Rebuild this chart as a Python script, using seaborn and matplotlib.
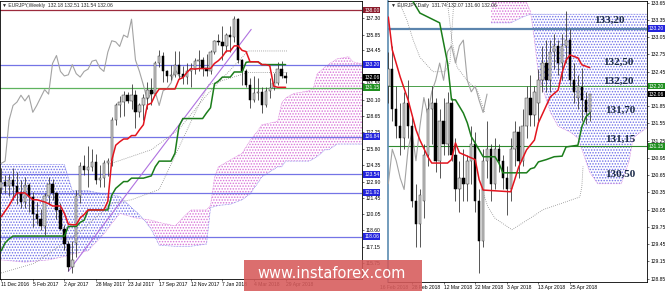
import numpy as np
import matplotlib
matplotlib.use("Agg")
import matplotlib.pyplot as plt
import matplotlib.transforms as mtransforms
from matplotlib.patches import Rectangle
import seaborn as sns

# ---------------- weekly chart (left) ----------------
w_open = [122.3, 122.9, 122.5, 123.0, 122.5, 121.9, 121.1, 122.6, 121.5, 120.0,
          119.6, 119.0, 121.6, 122.7, 121.9, 120.4, 118.7, 117.4, 115.4, 117.5,
          121.6, 124.3, 123.9, 124.2, 124.6, 123.0, 123.2, 124.5, 124.7, 128.3,
          129.6, 129.9, 130.5, 130.0, 130.5, 129.0, 129.6, 130.3, 131.0, 130.6,
          133.3, 134.0, 132.6, 132.2, 132.3, 133.2, 132.4, 132.1, 132.6, 132.8,
          133.5, 133.6, 132.9, 132.6, 134.3, 135.3, 135.2, 134.8, 135.8, 135.6,
          137.2, 133.6, 132.6, 131.4, 130.1, 130.7, 130.8, 129.6, 130.9, 131.1,
          131.6, 132.8, 132.18]
w_high = [124.1, 123.5, 123.6, 124.1, 123.7, 123.0, 123.3, 122.8, 122.0, 121.1,
          120.5, 121.9, 123.3, 123.1, 122.0, 121.0, 119.1, 117.7, 117.7, 122.2,
          124.6, 125.2, 126.0, 125.8, 125.3, 124.4, 124.8, 125.0, 128.6, 129.8,
          130.4, 130.9, 130.8, 131.5, 131.0, 129.8, 130.6, 131.7, 132.0, 133.5,
          134.5, 134.3, 132.7, 133.2, 134.4, 134.4, 133.1, 133.3, 133.3, 133.8,
          134.5, 133.9, 134.1, 134.5, 135.4, 135.9, 136.6, 136.0, 136.6, 137.5,
          137.3, 133.7, 132.8, 132.0, 132.2, 132.0, 131.2, 131.2, 132.0, 132.5,
          133.4, 133.5, 132.51]
w_low = [121.9, 121.9, 121.6, 121.3, 120.9, 120.6, 120.6, 120.2, 118.9, 119.2,
         118.6, 118.2, 120.9, 121.3, 119.6, 118.6, 116.9, 115.0, 114.85, 116.3,
         121.0, 123.5, 122.4, 123.8, 122.7, 122.4, 122.4, 123.4, 124.3, 127.9,
         128.6, 128.7, 129.8, 129.3, 127.6, 128.6, 128.3, 129.3, 129.6, 130.5,
         133.0, 131.7, 131.7, 131.8, 132.1, 131.9, 131.5, 131.5, 131.2, 132.4,
         132.6, 132.2, 132.2, 132.4, 134.1, 134.9, 133.6, 134.3, 134.3, 135.2,
         133.3, 131.4, 131.2, 129.4, 129.9, 130.1, 128.95, 129.5, 130.3, 131.0,
         131.4, 132.0, 131.54]
w_close = [122.9, 122.5, 123.0, 122.5, 121.9, 121.1, 122.6, 121.5, 120.0, 119.6,
           119.0, 121.6, 122.7, 121.9, 120.4, 118.7, 117.4, 115.4, 116.0, 121.6,
           124.3, 123.9, 124.2, 124.6, 123.0, 123.2, 124.5, 124.7, 128.3, 129.6,
           129.9, 130.5, 130.0, 130.5, 129.0, 129.6, 130.3, 131.0, 130.6, 133.3,
           134.0, 132.6, 132.2, 132.3, 133.2, 132.4, 132.1, 132.6, 132.8, 133.5,
           133.6, 132.9, 132.6, 134.3, 135.3, 135.2, 134.8, 135.8, 135.6, 137.2,
           133.6, 132.6, 131.4, 130.1, 130.7, 130.8, 129.6, 130.9, 131.1, 131.6,
           132.8, 132.2, 132.06]
w_tenkan = [119.8, 120.3, 120.8, 121.4, 121.9, 121.9, 121.9, 121.6, 121.3, 121.3,
            121.2, 121.1, 120.95, 120.75, 120.75, 120.75, 120.1, 119.15, 119.1, 119.1,
            119.7, 120.0, 120.4, 120.4, 120.4, 120.4, 120.4, 121.15, 124.8, 126.1,
            126.4, 126.65, 126.65, 126.95, 126.95, 127.45, 127.9, 129.65, 129.8, 130.55,
            131.05, 131.05, 131.05, 131.05, 131.05, 131.9, 132.05, 132.5, 132.85, 132.8,
            132.85, 132.85, 132.85, 132.85, 133.3, 133.55, 133.9, 134.4, 134.4, 134.85,
            134.85, 134.45, 134.35, 133.45, 133.45, 133.45, 133.2, 133.2, 133.1, 131.3,
            131.2, 131.2, 131.2]
w_kijun = ([116.8, 117.5, 117.85] + [118.1] * 14 + [118.95, 118.95, 118.95, 119.3, 119.5]
           + [120.4] * 6
           + [121.7, 122.3, 122.6, 122.9, 122.9, 123.2, 123.2, 123.2, 123.2, 123.3,
              123.4, 124.2, 124.7, 124.7, 124.7, 124.7, 125.4, 127.75]
           + [128.45] * 6
           + [128.95, 129.4, 131.5, 131.75, 132.1, 132.1, 132.1, 132.55, 132.55, 132.55,
              133.4, 133.45, 133.45, 133.45]
           + [133.2] * 7)
w_cloud_x = [0, 6, 12, 16, 18, 22, 26, 30, 34, 36, 38, 40, 44, 48, 52, 53, 54, 55,
             58, 61, 63, 65, 66, 70, 71, 72, 74, 78, 79, 80, 82, 83, 85, 88, 89, 92]
w_span_a = [116.0, 115.8, 116.0, 116.3, 116.5, 116.8, 118.3, 120.1, 119.7, 119.6,
            119.5, 119.3, 119.0, 120.4, 120.4, 120.8, 123.25, 124.2, 124.8, 125.4,
            126.5, 127.4, 127.9, 128.2, 129.8, 130.25, 130.65, 130.9, 131.1, 132.4,
            133.0, 133.25, 133.7, 133.9, 133.45, 133.2]
w_span_b = [124.4, 124.4, 124.4, 124.4, 122.1, 122.1, 121.8, 121.6, 120.3, 119.6,
            118.7, 117.3, 117.2, 117.2, 117.4, 120.6, 120.7, 120.8, 120.9, 121.3,
            121.8, 122.8, 123.3, 124.2, 124.2, 124.7, 124.7, 124.7, 124.9, 125.1,
            125.7, 125.7, 126.2, 126.2, 126.2, 126.2]
w_dot1_x = [27, 38, 45, 52, 62.5, 72.6]
w_dot1_y = [124.4, 125.7, 127.5, 130.5, 134.4, 134.4]
w_dot2_x = [0, 8.4, 20, 28, 33, 40, 52.4, 62.5, 72.6]
w_dot2_y = [114.85, 115.7, 118.5, 121.0, 121.3, 122.2, 131.4, 132.5, 132.5]
w_trend_x = [17, 63.3]
w_trend_y = [115.0, 136.3]
w_date_idx = [0, 8, 16, 24, 32, 40, 48, 56, 64, 72]
w_date_labels = ["11 Dec 2016", "5 Feb 2017", "2 Apr 2017", "28 May 2017", "23 Jul 2017",
                 "17 Sep 2017", "12 Nov 2017", "7 Jan 2018", "4 Mar 2018", "29 Apr 2018"]
w_price_ticks = [137.30, 135.85, 134.45, 131.55, 130.10, 128.65, 127.25, 125.80,
                 124.35, 122.90, 121.45, 120.05, 118.60, 117.15, 115.75]
w_levels = [138.00, 133.20, 131.15, 126.84, 123.54, 121.92, 118.06]
w_level_kind = ["red", "blue", "green", "blue", "blue", "blue", "blue"]
w_last = 132.06

# ---------------- daily chart (right) ----------------
d_idx = list(range(-6, 46))
d_open = [132.2, 132.5, 131.8, 131.5, 131.3, 131.9, 131.5, 130.2, 129.8, 130.2,
          131.0, 131.8, 131.9, 130.9, 131.6, 131.2, 131.9, 131.0, 130.4, 130.6,
          130.5, 130.9, 131.2, 130.2, 129.5, 130.9, 131.1, 130.5, 131.1, 130.9,
          130.6, 130.4, 131.1, 131.4, 130.9, 131.5, 132.0, 131.7, 131.9, 132.3,
          132.6, 132.3, 132.8, 132.9, 132.6, 132.9, 133.0, 132.3, 132.0, 132.18,
          131.95, 131.74]
d_high = [132.8, 132.9, 132.2, 131.9, 132.1, 132.3, 131.7, 130.5, 130.4, 131.2,
          132.0, 132.2, 132.0, 131.8, 132.0, 132.1, 132.0, 131.3, 130.9, 131.1,
          131.0, 131.5, 131.4, 130.4, 131.1, 131.6, 131.2, 131.3, 131.2, 131.0,
          130.8, 131.3, 131.6, 131.5, 131.8, 132.2, 132.4, 132.2, 132.5, 132.9,
          133.0, 133.0, 133.1, 133.0, 133.1, 133.5, 133.2, 132.6, 132.4, 132.51,
          132.1, 132.07]
d_low = [131.9, 131.6, 131.3, 131.0, 131.1, 131.3, 130.1, 129.4, 129.4, 129.9,
         130.8, 131.2, 130.7, 130.6, 131.0, 131.0, 130.9, 130.2, 130.0, 130.2,
         130.2, 130.5, 130.0, 128.95, 129.4, 130.6, 130.2, 130.4, 130.7, 130.4,
         129.95, 130.2, 130.8, 130.6, 130.8, 131.3, 131.5, 131.5, 131.6, 132.1,
         132.1, 132.1, 132.5, 132.4, 132.3, 132.6, 132.2, 131.9, 131.8, 131.6,
         131.54, 131.60]
d_close = [132.5, 131.8, 131.5, 131.3, 131.9, 131.5, 130.2, 129.8, 130.3, 131.0,
           131.8, 131.9, 130.9, 131.6, 131.2, 131.9, 131.0, 130.4, 130.6, 130.5,
           130.9, 131.2, 130.2, 129.5, 130.9, 131.1, 130.5, 131.1, 130.9, 130.6,
           130.4, 131.1, 131.4, 130.9, 131.5, 132.0, 131.7, 132.1, 132.3, 132.6,
           132.3, 132.8, 132.9, 132.6, 132.9, 133.0, 132.3, 132.1, 132.2, 131.95,
           131.74, 132.06]
d_tenkan_x = [-6, -5, -3, -1, 1, 2, 4, 5, 9, 10, 11, 12, 16, 17, 18, 25, 26, 27, 29,
              31, 32, 35, 37, 38, 39, 40, 42, 43, 45]
d_tenkan = [133.40, 132.83, 132.36, 131.96, 131.44, 131.26, 130.97, 130.86, 130.86,
            130.92, 131.21, 131.04, 130.92, 130.57, 130.39, 130.36, 130.57, 130.79,
            131.09, 131.26, 131.56, 132.01, 132.13, 132.43, 132.65, 132.74, 132.69,
            132.57, 132.52]
d_kijun_x = [-6, -1, 0, 2, 7, 9, 10, 11, 13, 14, 15, 17, 18, 21, 22, 23, 29, 30, 31,
             32, 34, 36, 38, 39, 42, 43, 44, 45]
d_kijun = [134.3, 134.3, 133.7, 133.47, 133.30, 132.60, 131.96, 131.96, 131.73, 131.56,
           131.32, 131.09, 130.97, 130.97, 130.86, 130.69, 130.69, 130.76, 130.78,
           130.88, 130.92, 130.97, 130.98, 131.14, 131.17, 131.49, 131.66, 131.73]
d_cloud_x = [20, 25, 28, 30, 31, 32, 35, 37, 40, 42, 45, 47, 53, 55, 56, 58, 60]
d_span_a = [134.6, 134.0, 133.8, 133.5, 133.0, 132.4, 131.75, 131.5, 131.4, 131.3,
            130.7, 130.5, 130.5, 130.9, 131.3, 131.4, 131.5]
d_span_b = [133.3, 133.3, 133.4, 133.45, 133.45, 133.45, 133.45, 133.45, 133.45,
            133.45, 133.45, 133.45, 133.45, 133.45, 133.45, 133.45, 133.45]
d_dot1_x = [-3.5, -1.3, 0.3, 2, 5.3, 8.4, 9.6, 10.6]
d_dot1_y = [133.7, 133.35, 133.0, 132.7, 132.45, 132.45, 132.6, 133.7]
d_dot2_x = [8.9, 10.1, 11.4, 13.9, 16.5, 18.5]
d_dot2_y = [133.7, 133.0, 132.53, 132.3, 132.13, 131.73]
d_dot3_x = [17.7, 19.2, 21, 25.3, 30.6, 33.2, 37.5, 42.5, 43, 43.3]
d_dot3_y = [130.4, 130.1, 129.9, 129.7, 129.93, 130.05, 130.15, 130.27, 130.45, 130.8]
d_date_idx = [0, 8, 16, 24, 32, 40]
d_date_labels = ["28 Feb 2018", "12 Mar 2018", "22 Mar 2018", "3 Apr 2018",
                 "13 Apr 2018", "25 Apr 2018"]
d_first_label = "16 Feb 2018"
d_price_ticks = [133.65, 133.35, 133.05, 132.75, 132.45, 131.85, 131.55, 131.25,
                 130.95, 130.65, 130.35, 130.05, 129.75, 129.45, 129.15, 128.85]
d_levels = [133.20, 132.20, 131.15]
d_level_kind = ["blue", "green", "green"]
d_last = 132.06
d_notes = ["133,20", "132,50", "132,20", "131,70", "131,15", "130,50"]
d_note_pos = [(50.1, 133.35), (52.2, 132.62), (52.2, 132.29), (52.7, 131.77),
              (52.7, 131.28), (52.7, 130.67)]

# ---------------- style ----------------
sns.set_theme(style="white")
plt.rcParams['font.family'] = ['Liberation Sans', 'DejaVu Sans']
plt.rcParams['hatch.linewidth'] = 0.7

W, H = 665, 291
fig = plt.figure(figsize=(W / 100, H / 100), dpi=100)
fig.patch.set_facecolor("white")
ax_l = fig.add_axes([0 / W, (H - 279) / H, 362 / W, (279 - 1) / H])
ax_r = fig.add_axes([388 / W, (H - 282) / H, (647 - 388) / W, (282 - 1) / H])

C_MAG = "#d873d8"
C_BLUE = "#6f6fe8"
LINE_COL = {"red": "#9c2a3c", "blue": "#7474e6", "green": "#5fb35f"}
BOX_COL = {"red": "#8b1c2c", "blue": "#2424dd", "green": "#1f8f1f"}
TXT = 3.6


def draw_candles(ax, idx, o, h, l, c, minh):
    idx = np.asarray(idx, float)
    o, h, l, c = (np.asarray(v, float) for v in (o, h, l, c))
    ax.vlines(idx, l, h, color="#3a3a3a", lw=0.6, zorder=4)
    up = c >= o
    bottom = np.minimum(o, c)
    height = np.maximum(np.abs(c - o), minh)
    ax.bar(idx[up], height[up], bottom=bottom[up], width=0.62, color="#cfcfcf",
           edgecolor="#3a3a3a", linewidth=0.35, zorder=5)
    ax.bar(idx[~up], height[~up], bottom=bottom[~up], width=0.62, color="black",
           edgecolor="black", linewidth=0.35, zorder=5)


def draw_cloud(ax, x, a, b):
    x = np.asarray(x, float)
    a = np.asarray(a, float)
    b = np.asarray(b, float)
    ax.fill_between(x, a, b, where=a >= b, interpolate=True, facecolor="none",
                    edgecolor=C_MAG, hatch="......", linewidth=0, zorder=1)
    ax.fill_between(x, a, b, where=a <= b, interpolate=True, facecolor="none",
                    edgecolor=C_BLUE, hatch="......", linewidth=0, zorder=1)
    ax.plot(x, a, ls=(0, (1, 1.2)), lw=0.5, color=C_MAG, zorder=1.5)
    ax.plot(x, b, ls=(0, (1, 1.2)), lw=0.5, color=C_BLUE, zorder=1.5)


def box(ax, y, text, fc):
    tr = mtransforms.blended_transform_factory(ax.transAxes, ax.transData)
    ax.text(1.006, y, text, transform=tr, fontsize=TXT, color="white", ha="left",
            va="center", clip_on=False, zorder=30,
            bbox=dict(boxstyle="square,pad=0.18", fc=fc, ec="none"))


def style_axis(ax, xlim, ylim, yticks, xidx, xlabels):
    ax.set_xlim(*xlim)
    ax.set_ylim(*ylim)
    ax.set_facecolor("white")
    ax.grid(False)
    ax.yaxis.tick_right()
    ax.set_yticks(yticks)
    ax.set_yticklabels([f"{v:.2f}" for v in yticks])
    ax.set_xticks(xidx)
    ax.set_xticklabels(xlabels)
    for lab in ax.get_xticklabels():
        lab.set_ha("left")
    ax.tick_params(axis="both", labelsize=TXT, length=1.5, width=0.4, pad=1,
                   colors="black", bottom=True, right=True, left=False)
    for s in ax.spines.values():
        s.set_linewidth(0.6)
        s.set_color("black")
    ax.set_xlabel("")
    ax.set_ylabel("")


# ---------------- left (weekly) ----------------
draw_cloud(ax_l, w_cloud_x, w_span_a, w_span_b)
for lv, kind in zip(w_levels, w_level_kind):
    ax_l.axhline(lv, color=LINE_COL[kind], lw=0.9, zorder=2)
ax_l.plot(w_dot1_x, w_dot1_y, ls=(0, (1, 1.5)), lw=0.6, color="#8c8c8c", zorder=2)
ax_l.plot(w_dot2_x, w_dot2_y, ls=(0, (1, 1.5)), lw=0.6, color="#8c8c8c", zorder=2)
ax_l.plot(w_trend_x, w_trend_y, color="#b072e0", lw=0.8, zorder=3)
w_x = np.arange(len(w_close))
sns.lineplot(x=w_x[26:] - 26, y=w_close[26:], ax=ax_l, color="#a3a3a3", lw=0.8,
             legend=False, zorder=3)
draw_candles(ax_l, w_x, w_open, w_high, w_low, w_close, 0.08)
sns.lineplot(x=w_x, y=w_kijun, ax=ax_l, color="#1b7d1b", lw=1.1, legend=False, zorder=6)
sns.lineplot(x=w_x, y=w_tenkan, ax=ax_l, color="#e3141e", lw=1.1, legend=False, zorder=6)
style_axis(ax_l, (-0.3, 91.35), (114.32, 138.80), w_price_ticks, w_date_idx, w_date_labels)
for lv, kind in zip(w_levels, w_level_kind):
    box(ax_l, lv, f"{lv:.2f}", BOX_COL[kind])
box(ax_l, w_last, f"{w_last:.2f}", "black")

# ---------------- right (daily) ----------------
draw_cloud(ax_r, d_cloud_x, d_span_a, d_span_b)
ax_r.axhline(d_levels[0], color="#5b84ad", lw=1.6, zorder=2)
ax_r.axhline(d_levels[1], color="#4aa04a", lw=0.7, zorder=2)
ax_r.axhline(d_levels[2], color="#2e8b2e", lw=0.8, zorder=2)
for xs, ys in ((d_dot1_x, d_dot1_y), (d_dot2_x, d_dot2_y), (d_dot3_x, d_dot3_y)):
    ax_r.plot(xs, ys, ls=(0, (1, 1.5)), lw=0.6, color="#8c8c8c", zorder=2)
d_x = np.asarray(d_idx)
sns.lineplot(x=d_x[26:] - 26, y=d_close[26:], ax=ax_r, color="#a3a3a3", lw=0.8,
             legend=False, zorder=3)
draw_candles(ax_r, d_x, d_open, d_high, d_low, d_close, 0.015)
sns.lineplot(x=d_kijun_x, y=d_kijun, ax=ax_r, color="#1b7d1b", lw=1.1, legend=False, zorder=6)
sns.lineplot(x=d_tenkan_x, y=d_tenkan, ax=ax_r, color="#e3141e", lw=1.1, legend=False, zorder=6)
style_axis(ax_r, (-6.08, 59.5), (128.79, 133.68), d_price_ticks, d_date_idx, d_date_labels)
ax_r.spines["left"].set_color("#5b8bb0")
ax_r.spines["left"].set_linewidth(1.2)
for lv, kind in zip(d_levels, d_level_kind):
    box(ax_r, lv, f"{lv:.2f}", BOX_COL[kind])
box(ax_r, d_last, f"{d_last:.2f}", "black")
tr_lab = mtransforms.blended_transform_factory(ax_r.transData, ax_r.transAxes)
ax_r.text(-8, -0.021, d_first_label, transform=tr_lab, fontsize=TXT, ha="left",
          va="center", clip_on=False)
for txt, (xx, yy) in zip(d_notes, d_note_pos):
    ax_r.text(xx, yy, txt, fontsize=8, fontweight="bold", family="Liberation Serif",
              color="#1b2a49", ha="center", va="center", zorder=25)

# ---------------- headers & watermark ----------------
fig.text(2 / W, 1 - 5 / H, "\u25bc EURJPY,Weekly  132.18 132.51 131.54 132.06",
         fontsize=TXT, ha="left", va="center", zorder=12)
fig.text(391 / W, 1 - 5 / H, "\u25bc EURJPY,Daily  131.74 132.07 131.60 132.06",
         fontsize=TXT, ha="left", va="center", zorder=12)
fig.add_artist(Rectangle((244 / W, 0), (422 - 244) / W, 31 / H, transform=fig.transFigure,
                         facecolor="#d65a5a", alpha=0.88, edgecolor="none", zorder=20))
fig.text(331.5 / W, 18 / H, "www.instaforex.com", fontsize=10.5, color="white",
         family="DejaVu Sans", ha="center", va="center", zorder=21)

fig.savefig("out.png", dpi=100, facecolor="white")
